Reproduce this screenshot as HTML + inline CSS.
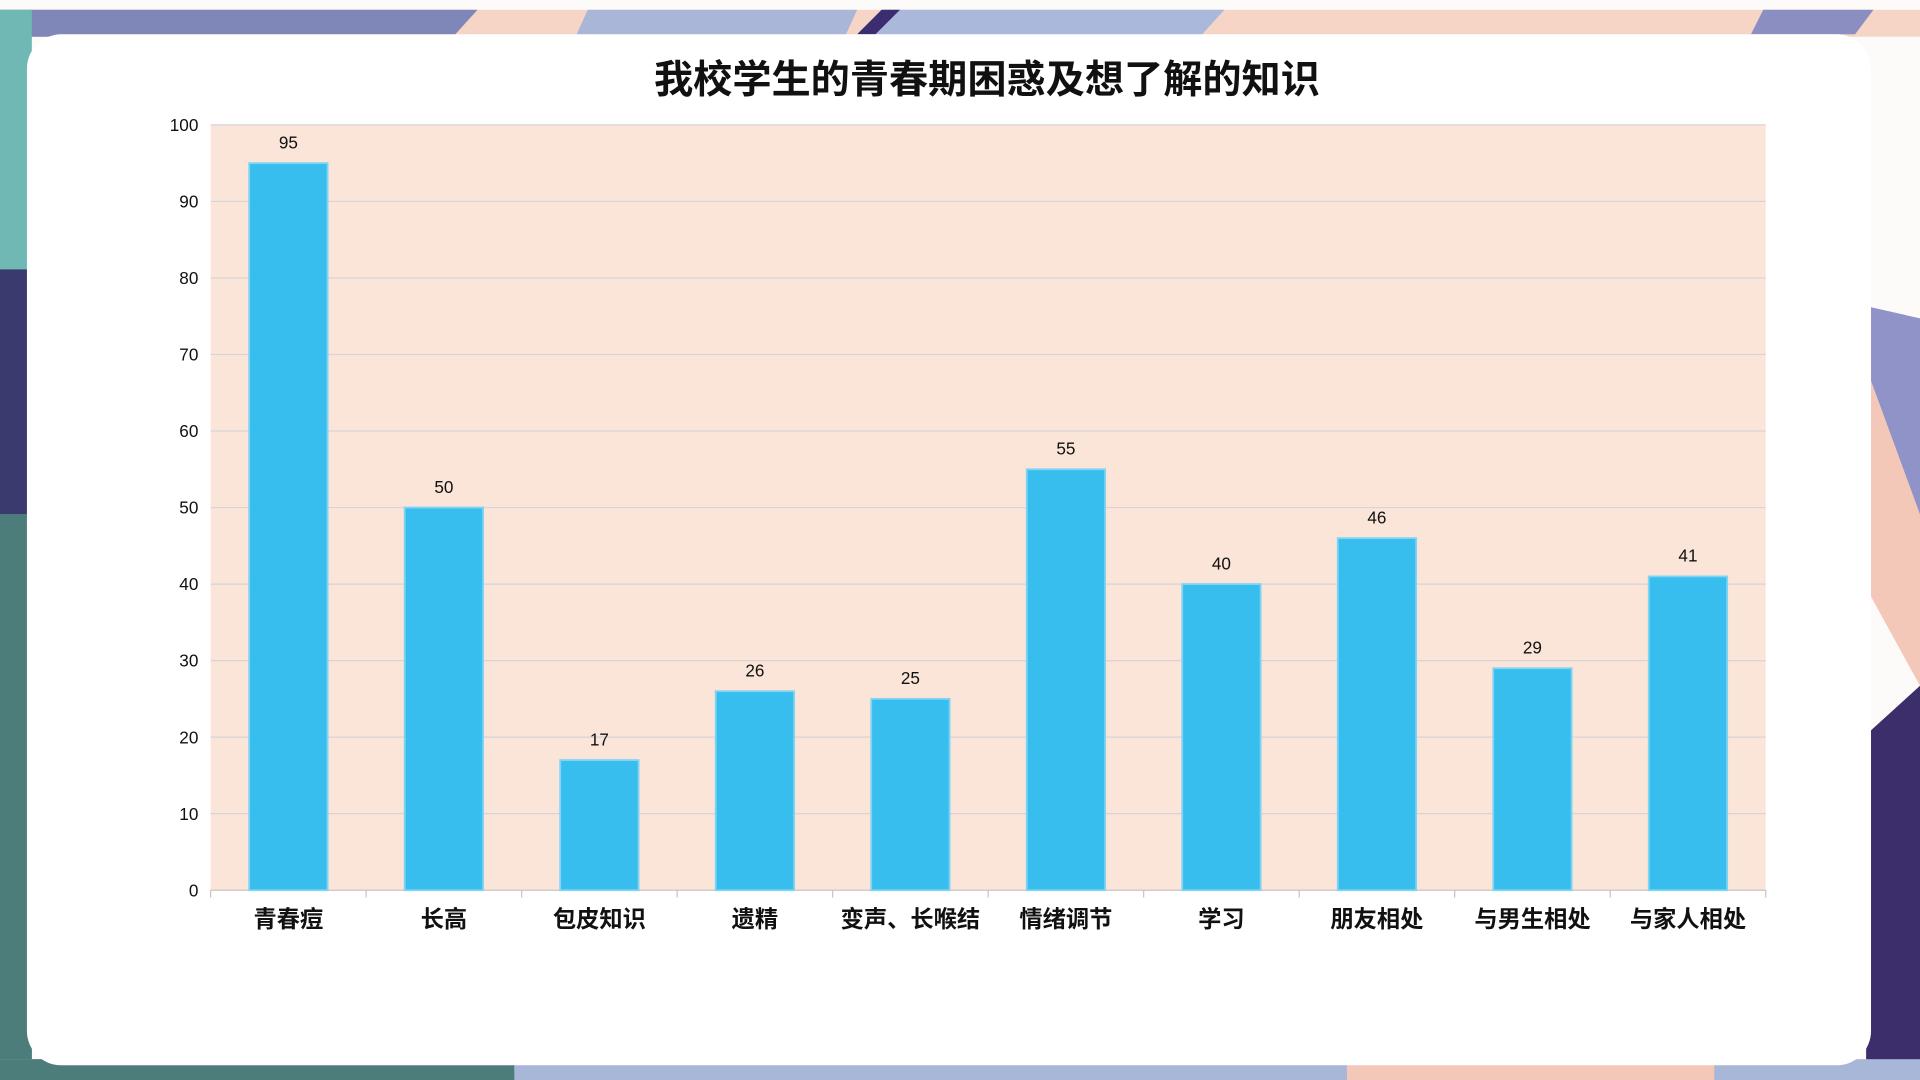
<!DOCTYPE html>
<html><head><meta charset="utf-8"><style>html,body{margin:0;padding:0;background:#fff;overflow:hidden}svg{display:block}text{font-family:"Liberation Sans","Noto Sans CJK SC",sans-serif}</style></head>
<body>
<svg width="1920" height="1080" viewBox="0 0 1568 882" preserveAspectRatio="none">
<g>
<rect x="0" y="0" width="1568" height="882" fill="#fdfbf9"/>
<rect x="0" y="8" width="1568" height="22" fill="#f6d5c6"/>
<polygon points="0,8 390,8 370,30 0,30" fill="#7f86b8"/>
<polygon points="480,8 700,8 690,30 470,30" fill="#a9b6d8"/>
<polygon points="720,8 1000,8 980,30 700,30" fill="#aab8dc"/>
<polygon points="700,28 720,8 735,8 715,28" fill="#3c2c70"/>
<polygon points="1440,8 1530,8 1515,28 1430,28" fill="#8a8ec0"/>
<rect x="0" y="8" width="26" height="874" fill="#6fb8b4"/>
<rect x="0" y="220" width="26" height="200" fill="#3b3a6e"/>
<rect x="0" y="420" width="26" height="460" fill="#4d7d7a"/>
<polygon points="1524,250 1568,260 1568,420 1524,380" fill="#8f93c8"/>
<polygon points="1524,300 1568,420 1568,560 1524,480" fill="#f3c8b8"/>
<polygon points="1524,600 1568,560 1568,882 1524,882" fill="#3b2e6a"/>
<rect x="0" y="865" width="1568" height="17" fill="#a8b6d8"/>
<rect x="0" y="865" width="420" height="17" fill="#4d7d7a"/>
<rect x="1100" y="865" width="300" height="17" fill="#f3c8b8"/>
</g>
<rect x="22" y="28" width="1506" height="842" rx="28" fill="#ffffff"/>
<text x="806" y="76" text-anchor="middle" font-size="32" font-weight="bold" fill="#111">我校学生的青春期困惑及想了解的知识</text>
<rect x="172" y="102" width="1270" height="625" fill="#fae5d8"/>
<g id="grid"></g><g id="bars"></g><g id="labels"></g>
</svg>
<script>
const categories=["青春痘","长高","包皮知识","遗精","变声、长喉结","情绪调节","学习","朋友相处","与男生相处","与家人相处"];
const values=[95,50,17,26,25,55,40,46,29,41];
const yTicks=[0,10,20,30,40,50,60,70,80,90,100];
const NS="http://www.w3.org/2000/svg";
const X0=172,X1=1442,Y0=727,Y1=102,YMAX=100;
function y(v){return Y0-(v/YMAX)*(Y0-Y1);}
const band=(X1-X0)/categories.length;
function xc(i){return X0+band*(i+0.5);}
function mk(tag,attrs,parent,txt){const e=document.createElementNS(NS,tag);for(const k in attrs)e.setAttribute(k,attrs[k]);if(txt!==undefined)e.textContent=txt;parent.appendChild(e);return e;}
const g=document.getElementById('grid'),b=document.getElementById('bars'),l=document.getElementById('labels');
yTicks.forEach(t=>{
 const ln=mk('line',{x1:X0,x2:X1,y1:y(t),y2:y(t),stroke:t===0?'#c8c4c4':'#d8d3d8','stroke-width':1},g);
 
 
 const tx=mk('text',{x:X0-10,y:y(t)+5,'text-anchor':'end','font-size':14,fill:'#111'},g,String(t));
 
 
});
for(let i=0;i<=categories.length;i++){
 const tk=mk('line',{x1:X0+band*i,x2:X0+band*i,y1:Y0,y2:Y0+6,stroke:'#c8c4c4'},g);
 
 
}
const bw=64;
values.forEach((v,i)=>{
 const r=mk('rect',{x:xc(i)-bw/2,y:y(v),width:bw,height:Y0-y(v),fill:'#38bdef',stroke:'#7fd3f3','stroke-width':1.5},b);
 
 
 const t=mk('text',{x:xc(i),y:y(v)-12,'text-anchor':'middle','font-size':14,fill:'#111'},l,String(v));
 
 
 const c=mk('text',{x:xc(i),y:757,'text-anchor':'middle','font-size':19,'font-weight':'bold',fill:'#111'},l,categories[i]);
 
 
});
</script>
</body></html>
